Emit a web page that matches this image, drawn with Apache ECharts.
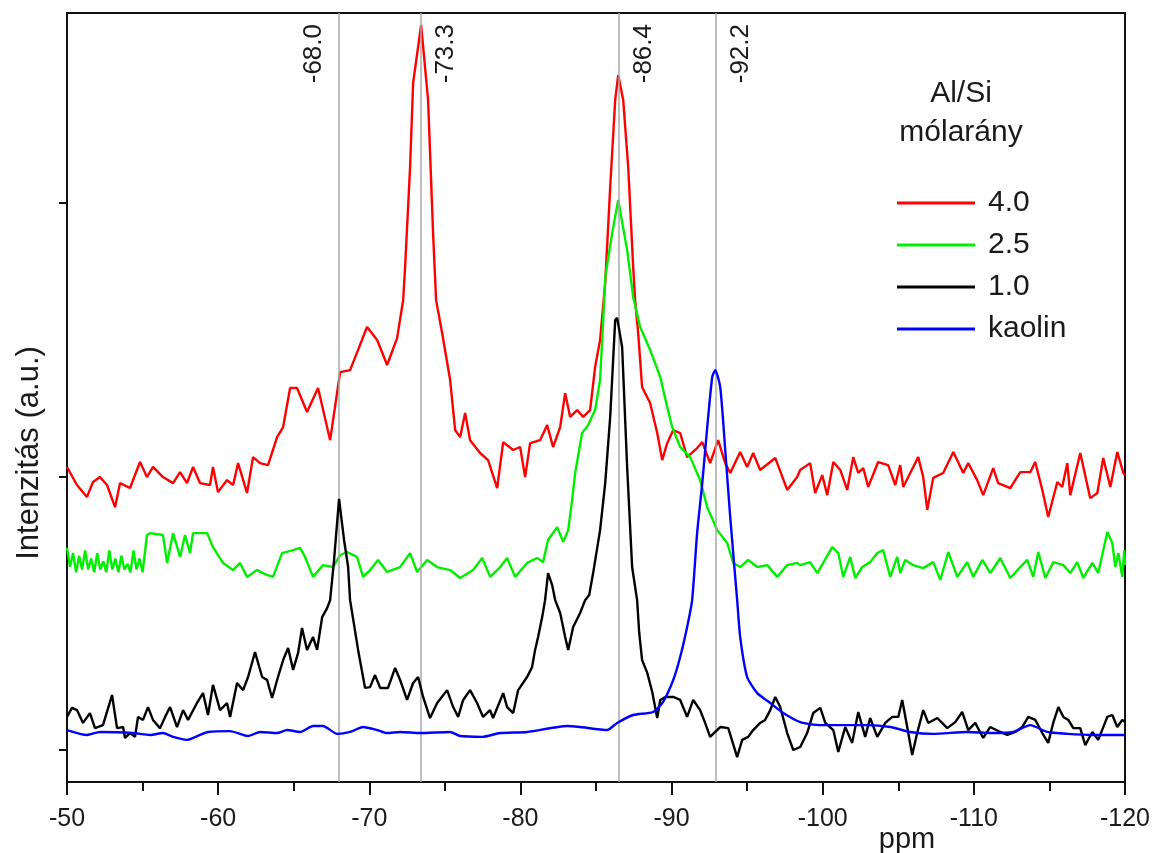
<!DOCTYPE html>
<html>
<head>
<meta charset="utf-8">
<script src="https://cdn.jsdelivr.net/npm/echarts@6/dist/echarts.min.js"></script>
<style>html,body{margin:0;padding:0;background:#fff}#chart{width:1159px;height:853px}</style>
</head>
<body>
<div id="chart"></div>
<script>
// ---- data (x: chemical shift in ppm, y: intensity in a.u.) ----
const seriesNames = ['4.0', '2.5', '1.0', 'kaolin'];
const legendTitle = 'Al/Si\nmólarány';
const xAxisName = 'ppm';
const yAxisName = 'Intenzitás (a.u.)';
const yTickValues = [0, 100, 200];
const peakPositions = [-68.0, -73.4, -86.5, -92.9];
const peakLabels = ['-68.0', '-73.3', '-86.4', '-92.2'];

const red40 = [[-50.0,103.5],[-50.66,96.9],[-51.32,92.5],[-51.72,98.0],[-52.18,99.8],[-52.65,96.9],[-53.18,88.8],[-53.51,97.6],[-54.17,95.8],[-54.83,105.3],[-55.29,99.8],[-55.69,103.5],[-56.35,99.8],[-57.02,97.6],[-57.48,101.6],[-57.94,97.6],[-58.34,103.5],[-58.80,97.6],[-59.46,96.9],[-59.66,103.5],[-59.99,94.3],[-60.59,98.7],[-60.99,96.9],[-61.32,104.9],[-61.91,94.0],[-62.31,107.1],[-62.77,104.9],[-63.30,104.2],[-63.90,114.4],[-64.30,118.1],[-64.76,132.4],[-65.22,132.4],[-65.88,123.6],[-66.61,132.4],[-67.41,113.3],[-68.07,138.2],[-68.73,138.9],[-69.26,146.3],[-69.85,154.7],[-70.52,149.9],[-71.18,140.8],[-71.84,150.6],[-72.24,164.5],[-72.37,176.6],[-72.70,213.2],[-72.90,243.9],[-73.43,265.1],[-73.89,237.7],[-74.22,189.0],[-74.42,164.5],[-74.82,152.5],[-75.35,135.3],[-75.68,117.0],[-76.01,114.4],[-76.34,123.2],[-76.67,113.3],[-77.33,108.6],[-77.86,106.0],[-78.46,95.8],[-78.86,112.6],[-79.52,109.7],[-79.98,110.8],[-80.31,99.8],[-80.64,112.2],[-81.30,113.3],[-81.77,118.8],[-82.16,110.8],[-82.63,118.1],[-82.96,130.5],[-83.29,121.8],[-83.75,124.3],[-84.15,121.8],[-84.61,124.3],[-84.94,140.0],[-85.27,149.9],[-85.61,170.8],[-85.94,205.9],[-86.27,237.7],[-86.47,246.8],[-86.80,237.7],[-87.13,213.2],[-87.46,176.6],[-87.59,164.5],[-87.79,152.5],[-88.05,132.7],[-88.58,126.9],[-89.05,115.9],[-89.38,106.0],[-89.71,112.2],[-90.11,117.0],[-90.57,115.9],[-91.03,107.1],[-91.69,110.4],[-92.03,112.6],[-92.55,104.9],[-93.08,113.3],[-93.55,104.9],[-93.88,101.3],[-94.54,109.0],[-95.00,103.5],[-95.40,108.6],[-95.86,102.4],[-96.86,106.8],[-97.65,95.1],[-98.31,99.8],[-98.51,102.4],[-99.17,104.9],[-99.50,94.0],[-99.97,100.5],[-100.30,93.2],[-100.70,105.3],[-101.16,102.4],[-101.62,95.1],[-102.02,107.1],[-102.35,101.3],[-102.68,103.1],[-103.01,96.2],[-103.67,105.3],[-104.33,104.2],[-104.80,96.9],[-105.13,104.2],[-105.33,96.2],[-105.79,101.3],[-106.32,107.1],[-106.65,99.8],[-106.92,87.8],[-107.31,99.5],[-107.97,101.3],[-108.64,109.0],[-109.30,101.3],[-109.63,104.9],[-110.22,98.7],[-110.62,93.2],[-111.28,103.1],[-111.61,97.6],[-112.41,95.8],[-113.07,101.6],[-113.73,101.6],[-114.06,105.3],[-114.53,95.1],[-114.92,85.2],[-115.52,98.0],[-115.85,96.2],[-116.18,104.9],[-116.38,93.2],[-117.04,108.6],[-117.70,92.1],[-118.17,94.0],[-118.56,106.8],[-119.03,96.2],[-119.49,109.0],[-119.89,101.3],[-120.0,100.5]];

const green25 = [[-50.0,74],[-50.2,67],[-50.4,72],[-50.6,65],[-50.8,71],[-51.0,66],[-51.2,73],[-51.4,66],[-51.6,70],[-51.8,65],[-52.0,72],[-52.2,66],[-52.4,69],[-52.6,65],[-52.8,73],[-53.0,66],[-53.2,70],[-53.4,65],[-53.6,71],[-53.8,66],[-54.0,68],[-54.2,65],[-54.4,73],[-54.6,66],[-54.8,70],[-55.0,65],[-55.15,72],[-55.29,78.6],[-55.49,79.3],[-56.35,78.6],[-56.62,68.4],[-57.02,79.3],[-57.48,70.6],[-57.81,78.6],[-58.14,72.0],[-58.34,79.3],[-59.27,79.3],[-59.66,74.2],[-60.32,68.4],[-60.99,65.8],[-61.45,68.4],[-61.91,63.3],[-62.57,65.8],[-63.24,64.0],[-63.63,63.3],[-64.23,72.0],[-64.96,73.1],[-65.42,73.9],[-65.75,70.6],[-66.28,63.3],[-66.94,67.6],[-67.60,66.9],[-68.07,71.3],[-68.53,72.4],[-69.19,70.6],[-69.59,63.3],[-70.05,65.8],[-70.58,69.5],[-71.18,65.1],[-72.04,66.9],[-72.70,72.0],[-73.16,65.1],[-73.83,69.5],[-74.49,66.9],[-75.35,65.8],[-76.01,62.9],[-76.87,65.8],[-77.47,70.2],[-78.00,63.3],[-78.66,66.9],[-79.12,70.2],[-79.65,63.3],[-80.44,68.4],[-81.11,70.2],[-81.50,68.7],[-81.83,76.8],[-82.43,81.5],[-82.83,76.1],[-83.16,80.4],[-83.42,91.4],[-83.62,101.3],[-84.08,115.9],[-84.48,118.8],[-84.94,124.3],[-85.27,135.3],[-85.41,149.9],[-85.54,164.5],[-85.61,172.9],[-86.07,189.0],[-86.47,201.1],[-87.06,182.8],[-87.46,165.6],[-87.92,154.7],[-88.58,146.3],[-89.25,136.4],[-89.71,125.4],[-90.04,118.1],[-90.57,110.8],[-91.23,107.1],[-91.89,98.7],[-92.36,88.8],[-93.02,80.4],[-93.68,75.7],[-94.08,68.4],[-94.54,66.9],[-95.07,69.5],[-95.67,66.9],[-96.33,67.6],[-96.99,63.3],[-97.65,67.6],[-98.31,68.4],[-98.51,67.6],[-99.17,68.7],[-99.64,64.7],[-100.03,68.4],[-100.63,74.2],[-101.03,72.0],[-101.36,63.3],[-101.82,70.6],[-102.15,62.9],[-102.61,66.9],[-103.14,68.7],[-103.61,72.0],[-104.00,73.1],[-104.47,63.3],[-104.93,70.6],[-105.13,64.7],[-105.46,69.5],[-105.99,67.6],[-106.65,66.5],[-107.31,68.7],[-107.78,62.2],[-108.31,72.4],[-108.90,63.3],[-109.56,68.7],[-109.96,63.3],[-110.56,69.5],[-111.09,64.7],[-111.75,70.2],[-112.41,62.9],[-113.07,66.9],[-113.53,69.5],[-113.93,63.3],[-114.26,72.4],[-114.73,62.9],[-115.26,68.7],[-115.92,67.6],[-116.38,64.7],[-116.84,68.7],[-117.24,62.9],[-117.84,68.4],[-118.23,64.7],[-118.83,79.7],[-119.16,75.7],[-119.36,66.9],[-119.56,72.0],[-119.82,63.3],[-119.95,73.1],[-120.0,67.6]];

const black10 = [[-50.0,12.1],[-50.33,15.4],[-50.66,14.6],[-51.06,9.9],[-51.52,13.5],[-51.85,8.0],[-52.38,9.1],[-52.98,20.1],[-53.31,8.0],[-53.71,8.4],[-53.84,4.4],[-54.17,6.2],[-54.50,4.8],[-54.70,12.1],[-55.03,11.0],[-55.36,15.7],[-55.69,11.0],[-56.15,8.0],[-56.49,12.1],[-56.82,15.7],[-57.28,8.4],[-57.68,14.6],[-58.01,11.0],[-58.60,17.2],[-59.00,20.8],[-59.33,12.8],[-59.66,23.8],[-60.13,14.6],[-60.59,17.2],[-60.79,12.1],[-61.25,24.5],[-61.65,21.9],[-61.98,26.7],[-62.44,35.8],[-62.91,26.7],[-63.24,25.6],[-63.57,19.0],[-63.96,26.7],[-64.30,32.9],[-64.63,37.3],[-64.96,29.3],[-65.29,35.5],[-65.55,44.6],[-65.88,36.6],[-66.28,41.3],[-66.55,36.6],[-66.88,48.6],[-67.21,51.9],[-67.41,54.8],[-67.67,69.5],[-68.00,91.8],[-68.33,76.8],[-68.60,66.9],[-68.73,54.8],[-69.26,36.6],[-69.72,22.7],[-70.05,23.0],[-70.38,27.4],[-70.72,22.7],[-71.24,22.7],[-71.71,30.0],[-72.04,25.6],[-72.50,18.3],[-72.90,24.5],[-73.23,26.7],[-73.56,19.4],[-74.02,11.7],[-74.49,17.2],[-75.15,21.9],[-75.55,15.7],[-75.88,12.1],[-76.21,18.3],[-76.67,21.9],[-77.13,17.2],[-77.53,12.1],[-77.99,14.6],[-78.19,11.7],[-78.86,20.8],[-79.12,15.7],[-79.52,13.5],[-79.85,21.9],[-80.44,26.7],[-80.77,30.3],[-80.97,36.6],[-81.17,41.3],[-81.44,48.6],[-81.63,54.8],[-81.83,64.7],[-82.10,60.3],[-82.30,54.8],[-82.63,50.1],[-82.96,41.3],[-83.16,36.6],[-83.49,45.0],[-83.95,50.1],[-84.28,54.8],[-84.55,56.7],[-84.81,64.7],[-85.27,80.4],[-85.61,97.6],[-85.94,121.8],[-86.27,157.2],[-86.40,158.0],[-86.73,147.3],[-87.06,103.5],[-87.39,66.9],[-87.72,54.8],[-87.86,42.8],[-88.05,32.9],[-88.39,28.2],[-88.72,21.2],[-89.05,11.7],[-89.25,18.3],[-89.58,19.4],[-90.11,19.4],[-90.57,18.3],[-91.03,12.1],[-91.43,18.3],[-91.89,14.6],[-92.22,9.9],[-92.55,4.8],[-92.89,6.6],[-93.22,8.4],[-93.75,8.0],[-94.34,-2.6],[-94.67,3.7],[-95.07,4.8],[-95.40,7.3],[-95.86,9.9],[-96.19,11.0],[-96.53,14.6],[-96.86,19.4],[-97.19,15.7],[-97.65,6.2],[-98.05,0.0],[-98.51,1.1],[-98.97,6.2],[-99.37,13.5],[-99.84,15.4],[-100.17,9.9],[-100.70,7.3],[-101.03,-0.7],[-101.49,8.4],[-101.95,2.6],[-102.35,13.9],[-102.81,4.8],[-103.14,11.7],[-103.61,4.8],[-104.14,9.9],[-104.60,12.1],[-105.00,12.1],[-105.26,18.3],[-105.59,8.4],[-105.92,-1.8],[-106.25,6.2],[-106.65,14.6],[-106.98,9.9],[-107.58,11.7],[-108.24,8.0],[-108.77,10.2],[-109.23,13.9],[-109.63,7.3],[-110.09,9.9],[-110.62,4.4],[-111.08,8.4],[-111.75,6.6],[-112.21,5.5],[-112.74,6.6],[-113.20,8.4],[-113.60,12.1],[-114.06,11.0],[-114.53,6.2],[-114.92,2.6],[-115.25,9.9],[-115.59,15.7],[-115.92,12.1],[-116.25,11.0],[-116.58,8.0],[-117.04,8.0],[-117.37,1.8],[-117.84,6.6],[-118.23,3.7],[-118.83,12.1],[-119.16,12.8],[-119.49,8.4],[-119.82,11.0],[-120.0,10.2]];

const kaolin = [[-50.0,7.3],[-51.32,5.5],[-52.18,6.6],[-54.37,6.2],[-55.49,5.5],[-56.35,6.2],[-57.02,4.8],[-57.94,3.7],[-58.80,5.5],[-59.33,6.6],[-60.79,6.9],[-61.98,5.1],[-62.77,6.6],[-63.90,6.2],[-64.56,7.3],[-65.42,6.6],[-66.28,8.8],[-66.94,8.8],[-67.87,5.9],[-68.73,6.6],[-69.59,8.4],[-70.52,7.3],[-71.18,6.2],[-72.04,6.6],[-73.36,6.2],[-75.35,6.6],[-76.01,5.1],[-77.47,4.8],[-78.66,6.2],[-80.44,6.6],[-83.09,8.8],[-83.95,8.4],[-85.74,7.3],[-86.40,9.9],[-87.46,12.8],[-88.78,13.9],[-89.44,17.6],[-90.11,25.6],[-90.57,34.0],[-91.03,45.0],[-91.36,54.8],[-91.69,79.3],[-92.03,97.6],[-92.36,118.1],[-92.69,136.4],[-92.89,138.9],[-93.22,132.7],[-93.55,109.7],[-93.88,85.2],[-94.34,54.8],[-94.54,41.3],[-95.00,26.7],[-95.67,20.8],[-96.53,17.2],[-97.39,13.5],[-98.51,10.2],[-99.84,9.1],[-101.62,9.1],[-102.94,9.1],[-104.47,8.4],[-105.79,6.6],[-107.31,5.9],[-109.56,6.6],[-111.28,6.2],[-112.61,6.6],[-113.73,9.1],[-114.86,6.6],[-116.18,5.9],[-117.90,5.5],[-120.0,5.5]];

// ---- chart ----
const FONT = '"Liberation Sans", Arial, sans-serif';
const TXT = '#1a1a1a';
const AX = '#111111';
const colors = ['#ff0000', '#00ee00', '#000000', '#0000ff'];
const seriesData = [red40, green25, black10, kaolin];

const chart = echarts.init(document.getElementById('chart'), null, {renderer: 'canvas'});

const series = seriesNames.map((name, i) => ({
  name: name,
  type: 'line',
  data: seriesData[i],
  symbol: 'none',
  showSymbol: false,
  smooth: i === 3 ? 0.2 : false,
  lineStyle: {color: colors[i], width: 2.4},
  itemStyle: {color: colors[i]},
  z: 3 + i
}));

series[0].markLine = {
  silent: true,
  symbol: ['none', 'none'],
  animation: false,
  lineStyle: {color: '#a8a8a8', width: 1.5, type: 'solid'},
  label: {show: true, color: TXT, fontSize: 26, fontFamily: FONT},
  data: peakPositions.map((p, i) => ({
    xAxis: p,
    label: {
      formatter: peakLabels[i],
      position: i === 0 ? 'insideEndTop' : 'insideEndBottom',
      distance: [11, 12]
    }
  }))
};

const option = {
  animation: false,
  backgroundColor: '#ffffff',
  textStyle: {fontFamily: FONT},
  grid: {left: 67, right: 34, top: 13, bottom: 71, show: true, borderColor: AX, borderWidth: 2, containLabel: false, outerBoundsMode: 'none'},
  legend: {
    orient: 'vertical', left: 897, top: 188, padding: 0,
    itemWidth: 78, itemHeight: 3, itemGap: 12, icon: 'rect',
    selectedMode: false,
    data: seriesNames,
    textStyle: {fontSize: 30, color: TXT, lineHeight: 30, fontFamily: FONT, padding: [0, 0, 0, 8]}
  },
  graphic: [{
    type: 'text', x: 961, y: 113.5, silent: true,
    style: {text: legendTitle, fontSize: 30, fontFamily: FONT, fill: TXT, align: 'center', verticalAlign: 'middle', lineHeight: 39}
  }],
  xAxis: {
    type: 'value', min: -120, max: -50, interval: 10, inverse: true,
    name: xAxisName, nameLocation: 'middle', nameGap: 43, nameMoveOverlap: false,
    nameTextStyle: {fontSize: 29, color: TXT, fontFamily: FONT, padding: [0, 0, 0, 622]},
    axisLine: {show: true, onZero: false, lineStyle: {color: AX, width: 2}},
    axisTick: {show: true, length: 13, lineStyle: {color: AX, width: 2}},
    minorTick: {show: true, splitNumber: 2, length: 9, lineStyle: {color: AX, width: 2}},
    axisLabel: {fontSize: 25, color: TXT, margin: 25, fontFamily: FONT},
    splitLine: {show: false}, minorSplitLine: {show: false}
  },
  yAxis: {
    type: 'value', min: -11.7, max: 269.5,
    name: yAxisName, nameLocation: 'middle', nameGap: 22, nameMoveOverlap: false,
    nameTextStyle: {fontSize: 31, color: TXT, fontFamily: FONT, padding: [0, 111, 0, 0]},
    axisLine: {show: true, onZero: false, lineStyle: {color: AX, width: 2}},
    axisTick: {show: true, length: 8, customValues: yTickValues, lineStyle: {color: AX, width: 2}},
    axisLabel: {show: false, customValues: yTickValues},
    splitLine: {show: false}
  },
  series: series
};
chart.setOption(option);
</script>
</body>
</html>
